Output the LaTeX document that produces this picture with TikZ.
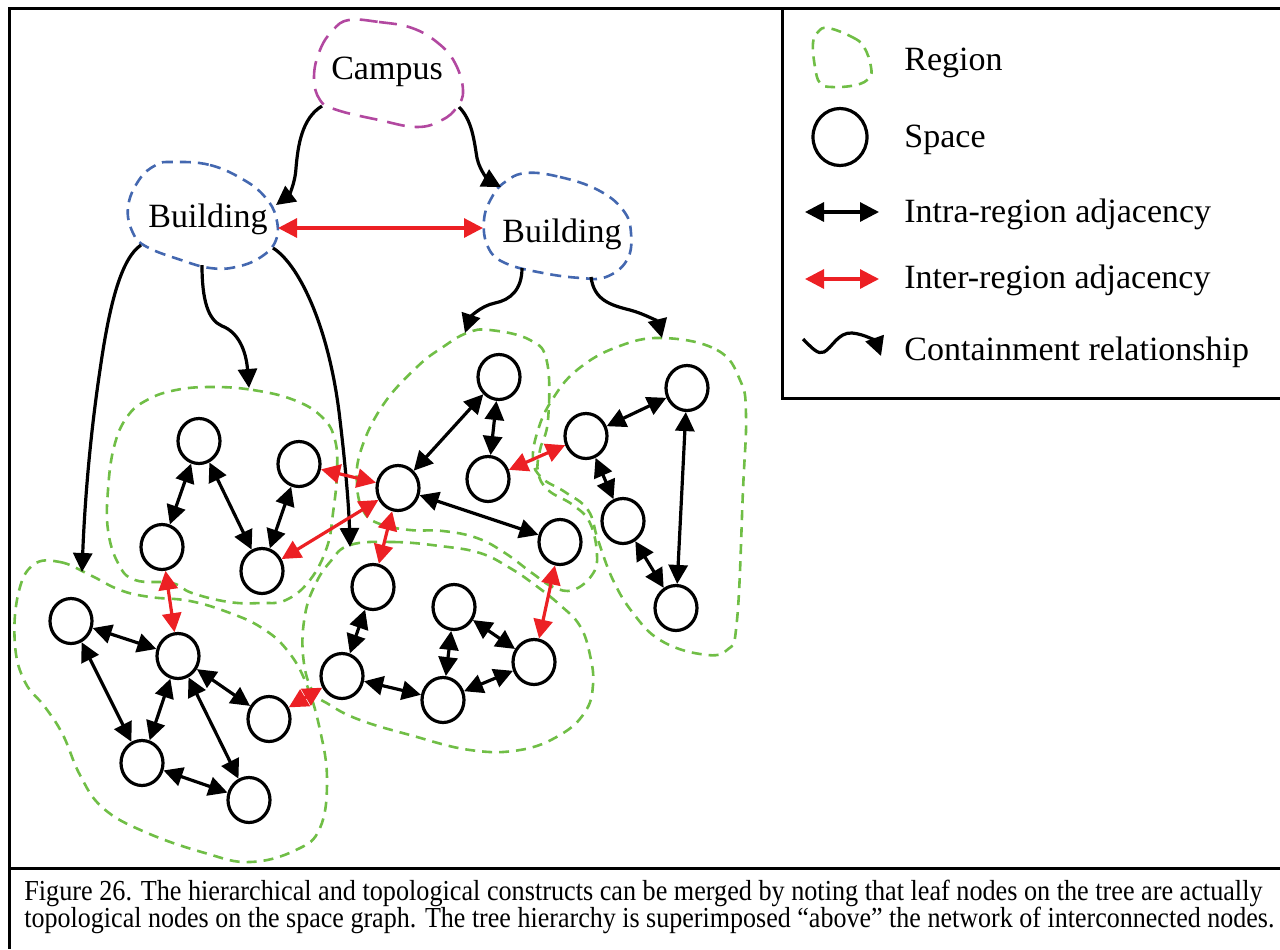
\documentclass[tikz,border=0pt]{standalone}
\usepackage{fontspec}
\setmainfont{Liberation Serif}
\usetikzlibrary{arrows.meta,shapes.geometric}
\definecolor{rgreen}{RGB}{112,190,70}
\definecolor{bblue}{RGB}{68,104,176}
\definecolor{cmag}{RGB}{178,72,160}
\definecolor{ared}{RGB}{236,32,36}
\begin{document}
\begin{tikzpicture}[x=0.5pt,y=-0.5pt,
  space/.style={ellipse,draw,line width=1.6pt,fill=white,minimum width=21pt,minimum height=22.5pt,inner sep=0pt},
  intra/.style={{Triangle[length=9.5pt,width=9.5pt]}-{Triangle[length=9.5pt,width=9.5pt]},line width=1.6pt},
  inter/.style={intra,draw=ared},
  contain/.style={-{Triangle[length=9.5pt,width=9.5pt]},line width=1.6pt},
  region/.style={draw=rgreen,line width=1.3pt,dash pattern=on 5pt off 3.5pt},
  bldg/.style={draw=bblue,line width=1.3pt,dash pattern=on 5.5pt off 3.5pt},
  camp/.style={draw=cmag,line width=1.3pt,dash pattern=on 9pt off 5pt},
  lbl/.style={font=\fontsize{17}{20}\selectfont,inner sep=0pt},
  frame/.style={line width=1.5pt}
]
\useasboundingbox (0,0) rectangle (1280,949);
% frame
\draw[frame] (1280,8) -- (9,8) -- (9,949);
\draw[frame] (9,868) -- (1280,868);
\draw[frame] (782,8) -- (782,398) -- (1280,398);

% regions
\draw[region] plot[smooth cycle,tension=0.7] coordinates {(212,387) (253,390) (294,400) (322,417) (335,440) (337,473) (333,513) (327,547) (310,580) (286,600) (261,603) (229,602) (192,593) (172,583) (135,580) (118,563) (108,530) (108,490) (114,447) (127,417) (147,400) (176,390)};
\draw[region] plot[smooth cycle,tension=0.7] coordinates {(33,565) (60,562) (90,575) (120,590) (150,597) (190,601) (230,613) (262,628) (287,650) (306,683) (320,730) (327,780) (320,828) (296,850) (250,862) (205,853) (145,832) (103,808) (80,775) (63,735) (45,707) (25,682) (15,645) (18,595)};
\draw[region] plot[smooth cycle,tension=0.7] coordinates {(467,333) (490,330) (530,340) (547,362) (548,420) (540,450) (538,472) (548,490) (573,505) (590,523) (597,555) (592,575) (573,590) (553,587) (532,573) (505,553) (477,538) (443,531) (410,530) (380,524) (364,512) (357,485) (361,450) (383,405) (417,367) (443,347)};
\draw[region] plot[smooth cycle,tension=0.7] coordinates {(663,338) (717,350) (740,380) (746,415) (743,490) (737,620) (727,650) (700,654) (660,640) (633,613) (613,580) (598,540) (588,510) (565,492) (542,478) (533,460) (538,430) (552,400) (577,370) (617,347)};
\draw[region] plot[smooth cycle,tension=0.7] coordinates {(350,545) (393,542) (440,546) (480,553) (510,568) (535,585) (560,605) (580,626) (590,655) (593,685) (585,712) (560,735) (520,750) (470,750) (410,735) (360,720) (330,705) (312,690) (303,655) (305,615) (315,585) (330,562)};

% campus and buildings
\draw[camp] plot[smooth cycle,tension=0.7] coordinates {(349,20) (379,22) (412,28) (438,43) (455,63) (463,90) (457,107) (442,120) (417,127) (379,120) (337,110) (320,100) (314,77) (320,50) (333,30)};
\draw[bldg] plot[smooth cycle,tension=0.7] coordinates {(173,162) (210,165) (244,180) (265,197) (276,217) (276,240) (261,257) (236,267) (210,268) (181,260) (147,247) (133,233) (128,207) (139,180) (156,165)};
\draw[bldg] plot[smooth cycle,tension=0.7] coordinates {(526,173) (560,177) (598,190) (623,210) (631,233) (627,260) (606,277) (581,278) (543,273) (505,263) (488,247) (484,220) (492,197) (505,182)};
\node[lbl,anchor=base] (campus) at (387,79) {Campus};
\node[lbl,anchor=base] (bldgL) at (208,227) {Building};
\node[lbl,anchor=base] (bldgR) at (562,242) {Building};

% connector end points
\coordinate (cs1) at (322,106); \coordinate (ce1) at (276,205);
\coordinate (cs2) at (459,107); \coordinate (ce2) at (501,187);
\coordinate (cs3) at (141,245); \coordinate (ce3) at (82,572);
\coordinate (cs4) at (202,265); \coordinate (ce4) at (249,388);
\coordinate (cs5) at (273,248); \coordinate (ce5) at (350,547);
\coordinate (cs6) at (522,268); \coordinate (ce6) at (465,333);
\coordinate (cs7) at (591,277); \coordinate (ce7) at (662,338);
\coordinate (bLe) at (278,228); \coordinate (bRw) at (483,228);

\draw[contain] (cs1) .. controls (302,118) and (298,145) .. (296,168) .. controls (295,185) and (288,196) .. (ce1);
\draw[contain] (cs2) .. controls (472,120) and (474,140) .. (477,158) .. controls (480,172) and (490,181) .. (ce2);
\draw[contain] (cs3) .. controls (122,258) and (110,300) .. (100,370) .. controls (88,450) and (84,520) .. (ce3);
\draw[contain] (cs4) .. controls (202,300) and (208,320) .. (222,326) .. controls (238,332) and (246,350) .. (ce4);
\draw[contain] (cs5) .. controls (300,265) and (330,330) .. (340,420) .. controls (346,470) and (349,510) .. (ce5);
\draw[contain] (cs6) .. controls (522,290) and (510,300) .. (495,303) .. controls (480,306) and (470,318) .. (ce6);
\draw[contain] (cs7) .. controls (594,300) and (610,305) .. (630,310) .. controls (645,314) and (658,322) .. (ce7);
\draw[inter] (bLe) -- (bRw);

% spaces
\node[space] (A) at (499,377) {};
\node[space] (B) at (488,479) {};
\node[space] (H) at (398,488) {};
\node[space] (C) at (560,542) {};
\node[space] (R1) at (586,436) {};
\node[space] (R2) at (687,388) {};
\node[space] (R3) at (623,521) {};
\node[space] (R4) at (676,608) {};
\node[space] (L1) at (199,441) {};
\node[space] (L2) at (299,464) {};
\node[space] (L3) at (162,547) {};
\node[space] (L4) at (262,571) {};
\node[space] (P1) at (71,621) {};
\node[space] (P2) at (178,656) {};
\node[space] (P3) at (269,719) {};
\node[space] (P4) at (142,763) {};
\node[space] (P5) at (249,800) {};
\node[space] (M1) at (373,587) {};
\node[space] (M2) at (454,607) {};
\node[space] (M3) at (534,662) {};
\node[space] (M4) at (342,676) {};
\node[space] (M5) at (443,700) {};

% intra-region adjacency
\foreach \a/\b in {L1/L3,L1/L4,L2/L4,P1/P2,P1/P4,P2/P4,P2/P5,P2/P3,P4/P5,A/B,A/H,H/C,R1/R2,R1/R3,R3/R4,R2/R4,M1/M4,M4/M5,M5/M3,M2/M5,M2/M3}
  \draw[intra] (\a) -- (\b);
% inter-region adjacency
\foreach \a/\b in {L2/H,L4/H,H/M1,L3/P2,P3/M4,B/R1,C/M3}
  \draw[inter] (\a) -- (\b);

% legend
\draw[region] plot[smooth cycle,tension=0.7] coordinates {(828,28) (852,37) (864,47) (871,67) (869,78) (856,85) (832,87) (820,83) (815,67) (813,43) (818,32)};
\node[ellipse,draw,line width=1.6pt,minimum width=27pt,minimum height=28.5pt,inner sep=0pt] (lgspace) at (840,137) {};
\coordinate (li1) at (805,212); \coordinate (li2) at (879,212);
\coordinate (le1) at (805,279); \coordinate (le2) at (879,279);
\coordinate (lc1) at (803,339); \coordinate (lc2) at (881,356);
\draw[intra] (li1) -- (li2);
\draw[inter] (le1) -- (le2);
\draw[contain] (lc1) .. controls (812,348) and (818,355) .. (824,352) .. controls (832,348) and (838,332) .. (852,333) .. controls (865,334) and (876,342) .. (lc2);
\node[lbl,anchor=base west] (tReg) at (904,70) {Region};
\node[lbl,anchor=base west] (tSpa) at (904,147) {Space};
\node[lbl,anchor=base west] (tIntra) at (904,222) {Intra-region adjacency};
\node[lbl,anchor=base west] (tInter) at (904,288) {Inter-region adjacency};
\node[lbl,anchor=base west] (tCont) at (904,360) {Containment relationship};

% caption
\node[anchor=base west,inner sep=0pt] (cap1) at (24,900) {\resizebox{619pt}{\height}{\fontsize{14.5}{16}\selectfont Figure 26. The hierarchical and topological constructs can be merged by noting that leaf nodes on the tree are actually}};
\node[anchor=base west,inner sep=0pt] (cap2) at (24,927) {\resizebox{625pt}{\height}{\fontsize{14.5}{16}\selectfont topological nodes on the space graph. The tree hierarchy is superimposed “above” the network of interconnected nodes.}};
\end{tikzpicture}
\end{document}
